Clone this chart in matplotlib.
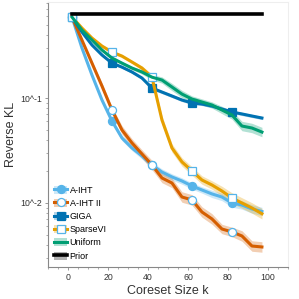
import numpy as np
import matplotlib
matplotlib.use("Agg")
import matplotlib.pyplot as plt
from matplotlib.lines import Line2D
from matplotlib.patches import Patch
from matplotlib.ticker import FixedLocator, MultipleLocator, LogLocator, NullFormatter

plt.rcParams['font.family'] = ['Liberation Sans', 'DejaVu Sans']

coreset_k = [2, 7, 12, 17, 22, 27, 32, 37, 42, 47, 52, 57, 62, 67, 72, 77, 82, 87, 92, 97]

a_iht = [0.591, 0.299, 0.1655, 0.0957, 0.0604, 0.0416, 0.0334, 0.0281, 0.0230, 0.0197,
         0.0177, 0.0162, 0.01452, 0.0133, 0.0122, 0.0114, 0.0100, 0.00957, 0.00877, 0.0083]
a_iht_ii = [0.591, 0.356, 0.215, 0.130, 0.0769, 0.0496, 0.0373, 0.0293, 0.0230, 0.0173,
            0.0155, 0.0114, 0.0107, 0.0082, 0.00705, 0.00565, 0.0053, 0.00485, 0.00389, 0.00381]
giga = [0.591, 0.425, 0.320, 0.257, 0.215, 0.197, 0.177, 0.155, 0.1245, 0.114,
        0.1045, 0.0957, 0.0897, 0.0877, 0.0839, 0.0786, 0.0736, 0.0705, 0.0674, 0.0645]
sparsevi = [0.591, 0.464, 0.3727, 0.3128, 0.274, 0.251, 0.2203, 0.193, 0.158, 0.0617,
            0.0334, 0.0246, 0.0202, 0.01655, 0.01484, 0.0130, 0.01116, 0.0100, 0.00896, 0.0079]
uniform = [0.591, 0.444, 0.357, 0.2865, 0.2404, 0.215, 0.193, 0.177, 0.158, 0.1484,
           0.1273, 0.109, 0.0978, 0.0916, 0.0858, 0.0769, 0.0689, 0.0541, 0.0518, 0.0474]
prior = [0.631] * 20

# log10 half-widths of the shaded bands
err_a_iht = [0.005, 0.01, 0.015, 0.02, 0.02, 0.025, 0.025, 0.03, 0.03, 0.03,
             0.03, 0.03, 0.03, 0.03, 0.035, 0.035, 0.04, 0.04, 0.04, 0.04]
err_a_iht_ii = [0.005, 0.01, 0.02, 0.03, 0.03, 0.04, 0.04, 0.04, 0.045, 0.045,
                0.045, 0.05, 0.05, 0.05, 0.05, 0.045, 0.045, 0.05, 0.05, 0.05]
err_giga = [0.005, 0.008, 0.01, 0.01, 0.012, 0.012, 0.012, 0.012, 0.015, 0.015,
            0.015, 0.015, 0.015, 0.015, 0.015, 0.015, 0.015, 0.015, 0.015, 0.015]
err_sparsevi = [0.005, 0.01, 0.012, 0.015, 0.015, 0.015, 0.015, 0.02, 0.03, 0.04,
                0.04, 0.04, 0.04, 0.04, 0.04, 0.045, 0.05, 0.05, 0.05, 0.05]
err_uniform = [0.005, 0.01, 0.012, 0.015, 0.015, 0.015, 0.015, 0.02, 0.025, 0.03,
               0.035, 0.035, 0.03, 0.03, 0.03, 0.035, 0.04, 0.045, 0.045, 0.045]
err_prior = [0.004] * 20

labels = ["A-IHT", "A-IHT II", "GIGA", "SparseVI", "Uniform", "Prior"]
series = [a_iht, a_iht_ii, giga, sparsevi, uniform, prior]
errs = [err_a_iht, err_a_iht_ii, err_giga, err_sparsevi, err_uniform, err_prior]
colors = ["#56B4E9", "#D55E00", "#0072B2", "#E69F00", "#009E73", "#000000"]
markers = ["o", "o", "s", "s", None, None]
mfaces = ["#56B4E9", "white", "#0072B2", "white", None, None]
medges = ["#56B4E9", "#56B4E9", "#0072B2", "#56B4E9", None, None]

fig = plt.figure(figsize=(2.99, 2.99), dpi=100)
ax = fig.add_axes([0.1605, 0.107, 0.8025, 0.886])

x = np.array(coreset_k)
handles = []
for lab, y, e, c, m, mf, me in zip(labels, series, errs, colors, markers, mfaces, medges):
    y = np.array(y)
    e = np.array(e)
    lo = y / 10 ** e
    hi = y * 10 ** e
    ax.fill_between(x, lo, hi, color=c, alpha=0.3, linewidth=0)
    kw = {}
    if m is not None:
        kw = dict(marker=m, markersize=5.8, markerfacecolor=mf, markeredgecolor=me,
                  markeredgewidth=0.9, markevery=4)
    lw = 2.6 if lab == "Prior" else 2.2
    ax.plot(x, y, color=c, lw=lw, **kw)
    h_line = Line2D([], [], color=c, lw=lw, **{k: v for k, v in kw.items() if k != 'markevery'})
    h_patch = Patch(facecolor=c, alpha=0.3, edgecolor='none')
    handles.append((h_patch, h_line))

ax.set_yscale('log')
ax.set_xlim(-10, 110)
ax.set_ylim(10 ** (-2.61), 10 ** (-0.086))
ax.xaxis.set_major_locator(MultipleLocator(20))
ax.xaxis.set_minor_locator(MultipleLocator(5))
ax.yaxis.set_major_locator(FixedLocator([0.01, 0.1]))
ax.set_yticklabels(["10^-2", "10^-1"])
ax.yaxis.set_minor_locator(LogLocator(base=10, subs=np.arange(2, 10)))
ax.yaxis.set_minor_formatter(NullFormatter())

for s in ['top', 'right']:
    ax.spines[s].set_color('#eeeeee')
    ax.spines[s].set_linewidth(0.8)
for s in ['left', 'bottom']:
    ax.spines[s].set_color('#888888')
    ax.spines[s].set_linewidth(0.8)
ax.tick_params(axis='both', which='major', labelsize=6.3, length=2.5, width=0.6,
               color='#888888', labelcolor='#333333', pad=2)
ax.tick_params(axis='both', which='minor', length=1.5, width=0.5, color='#888888')

ax.set_xlabel("Coreset Size k", fontsize=9, color='#333333', labelpad=2)
ax.set_ylabel("Reverse KL", fontsize=9, color='#333333', labelpad=2)

ax.legend(handles, labels, loc='lower left', bbox_to_anchor=(0.0, 0.0), frameon=False,
          fontsize=6.5, handlelength=1.4, handleheight=1.0, handletextpad=0.3,
          labelspacing=0.45, borderaxespad=0.3)

fig.savefig("out.png", dpi=100)
